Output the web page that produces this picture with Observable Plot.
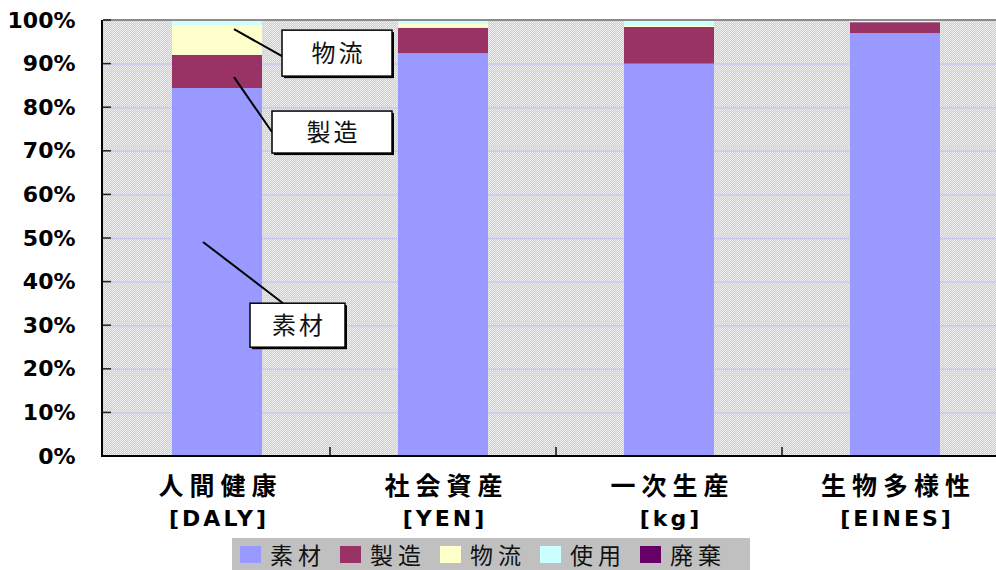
<!DOCTYPE html>
<html>
<head>
<meta charset="utf-8">
<script src="https://cdn.jsdelivr.net/npm/d3@7"></script>
<script src="https://cdn.jsdelivr.net/npm/@observablehq/plot@0.6"></script>
<style>
  html, body { margin: 0; padding: 0; background: #ffffff; }
  #chart { position: relative; width: 996px; height: 570px; overflow: hidden; }
  #chart svg { display: block; }
  #legend {
    position: absolute; left: 232px; top: 538px; width: 518px; height: 32px;
    background: #c0c0c0; box-sizing: border-box; padding-left: 8px;
    display: flex; align-items: center; overflow: hidden;
  }
  #legend .lg-swatches-wrap, #legend .lg-swatches, #legend > div {
    margin: 0 !important; min-height: 0 !important; line-height: 28px;
  }
  #legend .lg-swatch {
    margin-right: 14px !important; font-size: 23px !important; letter-spacing: 5px;
    color: #111; font-family: 'Noto Sans CJK JP', sans-serif; line-height: 28px;
  }
  #legend .lg-swatch svg { margin-right: 9px !important; }
</style>
</head>
<body>
<div id="chart"></div>
<script>
// ---- data ----
const categories = ["人間健康", "社会資産", "一次生産", "生物多様性"];
const units = ["[DALY]", "[YEN]", "[kg]", "[EINES]"];
const series = ["素材", "製造", "物流", "使用", "廃棄"];
const seriesColors = ["#9999ff", "#993366", "#ffffcc", "#ccffff", "#660066"];
const sozai    = [84.4, 92.4, 90.0, 97.0];
const seizo    = [7.6, 5.8, 8.4, 2.5];
const butsuryu = [6.9, 0.9, 0.4, 0.0];
const shiyo    = [1.1, 0.9, 1.2, 0.5];
const haiki    = [0.0, 0.0, 0.0, 0.0];
const yTicks = [0, 10, 20, 30, 40, 50, 60, 70, 80, 90, 100];
// callouts: which series segment of which category they point at (values in %)
const annotations = [
  {label: "物流", category: "人間健康", at: 97.9, labelAt: 92.4},
  {label: "製造", category: "人間健康", at: 86.9, labelAt: 74.3},
  {label: "素材", category: "人間健康", at: 49.1, labelAt: 30.0}
];

// ---- layout of callout boxes (pixels relative to the band centre) ----
const calloutLayout = {
  "物流": {dx: 17, boxDx: 120, w: 110, h: 46, end: "left", endOff: 3},
  "製造": {dx: 17, boxDx: 115, w: 120, h: 42, end: "left", endOff: 0},
  "素材": {dx: -14, boxDx: 80.5, w: 95, h: 44, end: "top", endOff: -14.5}
};

const valuesBySeries = [sozai, seizo, butsuryu, shiyo, haiki];
const table = categories.flatMap((c, i) =>
  series.map((s, j) => ({category: c, series: s, value: valuesBySeries[j][i]}))
);

const cjk = "'Noto Sans CJK JP', 'Noto Sans CJK SC', sans-serif";

function background(index, scales, values, dims) {
  const {width, height, marginLeft, marginTop, marginRight, marginBottom} = dims;
  const g = d3.create("svg:g");
  const p = g.append("defs").append("pattern")
    .attr("id", "dots").attr("width", 2).attr("height", 2)
    .attr("patternUnits", "userSpaceOnUse");
  p.append("rect").attr("width", 2).attr("height", 2).attr("fill", "#cdcdcd");
  p.append("rect").attr("width", 1).attr("height", 1).attr("fill", "#f2f2f2");
  p.append("rect").attr("x", 1).attr("y", 1).attr("width", 1).attr("height", 1).attr("fill", "#e8e8e8");
  g.append("rect")
    .attr("x", marginLeft).attr("y", marginTop)
    .attr("width", width - marginLeft - marginRight)
    .attr("height", height - marginTop - marginBottom)
    .attr("fill", "url(#dots)");
  return g.node();
}

function decor(index, scales, values, dims) {
  const {x, y} = scales;
  const {width, height, marginLeft, marginTop, marginRight, marginBottom} = dims;
  const bw = x.bandwidth();
  const step = x.step();
  const g = d3.create("svg:g");
  const x0 = marginLeft, x1 = width - marginRight;
  const y0 = height - marginBottom, yTop = marginTop;
  g.append("line").attr("x1", x0).attr("x2", x1).attr("y1", yTop).attr("y2", yTop)
    .attr("stroke", "#8c8c8c").attr("stroke-width", 2);
  for (const t of yTicks) {
    g.append("line").attr("x1", x0).attr("x2", x0 + 8).attr("y1", y(t)).attr("y2", y(t))
      .attr("stroke", "#222").attr("stroke-width", 1.5);
  }
  categories.forEach((c, i) => {
    if (i === 0) return;
    const bx = x(c) - (step - bw) / 2;
    g.append("line").attr("x1", bx).attr("x2", bx).attr("y1", y0).attr("y2", y0 - 9)
      .attr("stroke", "#444").attr("stroke-width", 2);
  });
  g.append("line").attr("x1", x0 - 1).attr("x2", x0 - 1).attr("y1", yTop).attr("y2", y0 + 1)
    .attr("stroke", "#000").attr("stroke-width", 2);
  g.append("line").attr("x1", x0 - 2).attr("x2", x1).attr("y1", y0).attr("y2", y0)
    .attr("stroke", "#000").attr("stroke-width", 2);
  return g.node();
}

function callouts(index, scales) {
  const {x, y} = scales;
  const bw = x.bandwidth();
  const g = d3.create("svg:g");
  for (const a of annotations) {
    const L = calloutLayout[a.label];
    const cx = x(a.category) + bw / 2;
    const px = cx + L.dx, py = y(a.at);
    const bx = cx + L.boxDx, by = y(a.labelAt);
    let ex, ey;
    if (L.end === "left") { ex = bx - L.w / 2; ey = by + L.endOff; }
    else { ex = bx + L.endOff; ey = by - L.h / 2; }
    g.append("line").attr("x1", px).attr("y1", py).attr("x2", ex).attr("y2", ey)
      .attr("stroke", "#000").attr("stroke-width", 2);
    g.append("rect").attr("x", bx - L.w / 2 + 2).attr("y", by - L.h / 2 + 2)
      .attr("width", L.w).attr("height", L.h).attr("fill", "#000");
    g.append("rect").attr("x", bx - L.w / 2).attr("y", by - L.h / 2)
      .attr("width", L.w).attr("height", L.h)
      .attr("fill", "#fff").attr("stroke", "#000").attr("stroke-width", 1.5);
    g.append("text").attr("x", bx + 1.5).attr("y", by).attr("dy", "0.36em")
      .attr("text-anchor", "middle").attr("font-family", cjk)
      .attr("font-size", 24).attr("letter-spacing", 3).attr("fill", "#111")
      .text(a.label);
  }
  return g.node();
}

const plot = Plot.plot({
  width: 996,
  height: 535,
  marginLeft: 103,
  marginRight: 0,
  marginTop: 20,
  marginBottom: 79,
  style: {fontFamily: cjk, background: "transparent", color: "#000"},
  x: {domain: categories, range: [103, 1009], paddingInner: 0.602, paddingOuter: 0.305, label: null},
  y: {domain: [0, 100], label: null},
  color: {domain: series, range: seriesColors},
  marks: [
    background,
    Plot.ruleY(yTicks.slice(1, -1), {stroke: "#c8c8f2", strokeWidth: 1.5}),
    Plot.barY(table, {x: "category", y: "value", fill: "series"}),
    Plot.axisY({
      ticks: yTicks, tickFormat: d => d + "%", tickSize: 0, tickPadding: 28,
      fontSize: 22, fontWeight: "bold", fontFamily: "'DejaVu Sans', sans-serif", fill: "#000"
    }),
    Plot.axisX({
      tickSize: 0, tickPadding: 21, dx: 3,
      fontSize: 25, fontWeight: "bold", fill: "#000", fontFamily: cjk
    }),
    Plot.axisX({
      tickSize: 0, tickPadding: 54, dx: 1.5,
      tickFormat: d => units[categories.indexOf(d)],
      fontSize: 22, fontWeight: "bold", fill: "#000", fontFamily: "'DejaVu Sans', sans-serif"
    }),
    decor,
    callouts
  ]
});
d3.select(plot).selectAll("text").each(function () {
  const t = this.textContent;
  if (categories.includes(t)) this.setAttribute("letter-spacing", "6");
  else if (units.includes(t)) this.setAttribute("letter-spacing", "3");
});

const chart = document.getElementById("chart");
chart.appendChild(plot);

const legendBox = document.createElement("div");
legendBox.id = "legend";
legendBox.appendChild(plot.legend("color", {
  className: "lg", swatchWidth: 21, swatchHeight: 17,
  style: {fontFamily: cjk}
}));
chart.appendChild(legendBox);
</script>
</body>
</html>
